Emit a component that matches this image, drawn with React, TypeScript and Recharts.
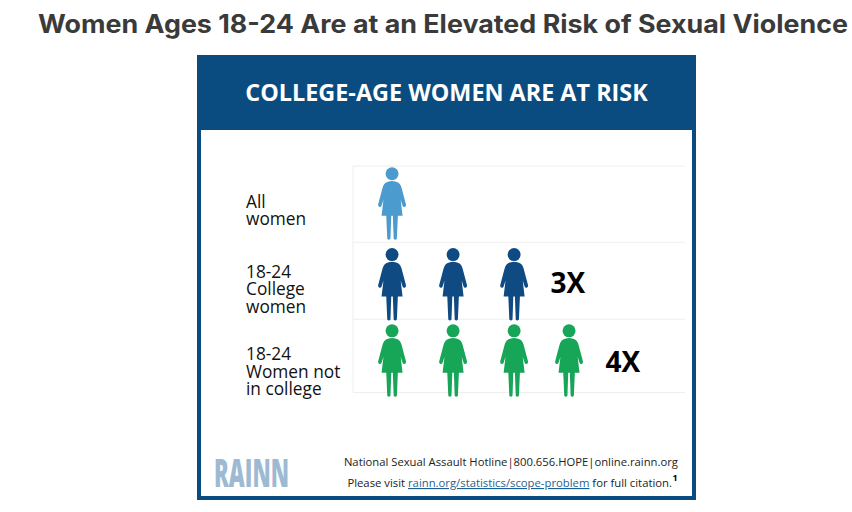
import { CartesianGrid, Scatter, ScatterChart, XAxis, YAxis } from 'recharts';

const categories = [
  ['All', 'women'],
  ['18-24', 'College', 'women'],
  ['18-24', 'Women not', 'in college'],
];
const labelRows = [0.575, 1.62, 2.71];
const gridRows = [0, 1.01, 2.03, 3];

const allWomenX = [1];
const collegeX = [1, 2, 3];
const notCollegeX = [1, 2, 3, 3.9];
const iconRows = [0.5, 1.57, 2.58];

const multipliers = [
  { x: 3.88, y: 1.54, label: '3X' },
  { x: 4.78, y: 2.58, label: '4X' },
];

const NAVY = '#0a4c80';
const BODY = 'M-4 -22 Q0 -23.5 4 -22 C7 -21.5 8.5 -19 9.5 -16 L14 1 Q14 3 12.5 3.2 Q11 3.4 10.5 2 L8.6 -4 L10.5 12 L5.8 12 L4.8 35 Q3.2 37 1.6 35 L0.8 12 L-0.8 12 L-1.6 35 Q-3.2 37 -4.8 35 L-5.8 12 L-10.5 12 L-8.6 -4 L-10.5 2 Q-11 3.4 -12.5 3.2 Q-14 3 -14 1 L-9.5 -16 C-8.5 -19 -7 -21.5 -4 -22 Z';

const Woman = (color: string) => (props: any) => (
  <g transform={`translate(${props.cx},${props.cy})`} fill={color}>
    <circle cx={0} cy={-30} r={6.5} />
    <path d={BODY} />
  </g>
);

const Multiplier = (props: any) => (
  <text x={props.cx} y={props.cy} textAnchor="middle" dominantBaseline="central" fontFamily="Open Sans" fontWeight={700} fontSize={28} fill="#000">
    {props.payload.label}
  </text>
);

const RowLabel = (props: any) => {
  const lines = categories[labelRows.indexOf(props.payload.value)] || [];
  const start = props.y - ((lines.length - 1) * 17.5) / 2;
  return (
    <text x={246} y={start} fontFamily="Open Sans" fontSize={17.3} fill="#111" dominantBaseline="central">
      {lines.map((line, i) => (
        <tspan key={line} x={246} y={start + i * 17.5}>{line}</tspan>
      ))}
    </text>
  );
};

function Frame() {
  return (
    <svg width={852} height={512} style={{ position: 'absolute', left: 0, top: 0 }}>
      <text x={38} y={33} textLength={810} lengthAdjust="spacingAndGlyphs" fontFamily="Inter" fontWeight={700} fontSize={25} fill="#3a3a3a">
        Women Ages 18-24 Are at an Elevated Risk of Sexual Violence
      </text>
      <rect x={199} y={57} width={495} height={441} fill="#fff" stroke={NAVY} strokeWidth={4} />
      <rect x={197} y={55} width={499} height={75} fill={NAVY} />
      <text x={446.5} y={101} textAnchor="middle" fontFamily="Open Sans" fontWeight={700} fontSize={23.4} fill="#fff">
        COLLEGE-AGE WOMEN ARE AT RISK
      </text>
      <text x={214} y={487} textLength={75} lengthAdjust="spacingAndGlyphs" fontFamily="Open Sans" fontWeight={800} fontSize={39} fill="#9dbad2">
        RAINN
      </text>
      <text x={678} y={466} textAnchor="end" fontFamily="Open Sans" fontSize={11.27} fill="#222">
        National Sexual Assault Hotline|800.656.HOPE|online.rainn.org
      </text>
      <text x={672} y={487} textAnchor="end" fontFamily="Open Sans" fontSize={11.3} fill="#222">
        Please visit <tspan fill="#1f5f92" textDecoration="underline">rainn.org/statistics/scope-problem</tspan> for full citation.
      </text>
      <text x={672.5} y={481} fontFamily="Open Sans" fontWeight={700} fontSize={9} fill="#000">1</text>
    </svg>
  );
}

export default function App() {
  return (
    <div style={{ position: 'absolute', left: 0, top: 0, width: 852, height: 512 }}>
      <Frame />
      <div style={{ position: 'absolute', left: 0, top: 0 }}>
        <ScatterChart width={852} height={512} margin={{ top: 166, right: 167, bottom: 119.5, left: 253 }}>
          <CartesianGrid horizontalValues={gridRows} vertical={false} stroke="#eeeeee" />
          <XAxis type="number" dataKey="x" domain={[0.36, 5.8]} hide />
          <YAxis
            type="number"
            dataKey="y"
            domain={[0, 3]}
            reversed
            width={100}
            ticks={labelRows}
            interval={0}
            tick={RowLabel}
            tickLine={false}
            axisLine={{ stroke: '#eeeeee' }}
          />
          <Scatter data={allWomenX.map((x) => ({ x, y: iconRows[0] }))} shape={Woman('#4b9bcf')} isAnimationActive={false} />
          <Scatter data={collegeX.map((x) => ({ x, y: iconRows[1] }))} shape={Woman('#0f4a83')} isAnimationActive={false} />
          <Scatter data={notCollegeX.map((x) => ({ x, y: iconRows[2] }))} shape={Woman('#17a558')} isAnimationActive={false} />
          <Scatter data={multipliers} shape={Multiplier} isAnimationActive={false} />
        </ScatterChart>
      </div>
    </div>
  );
}
